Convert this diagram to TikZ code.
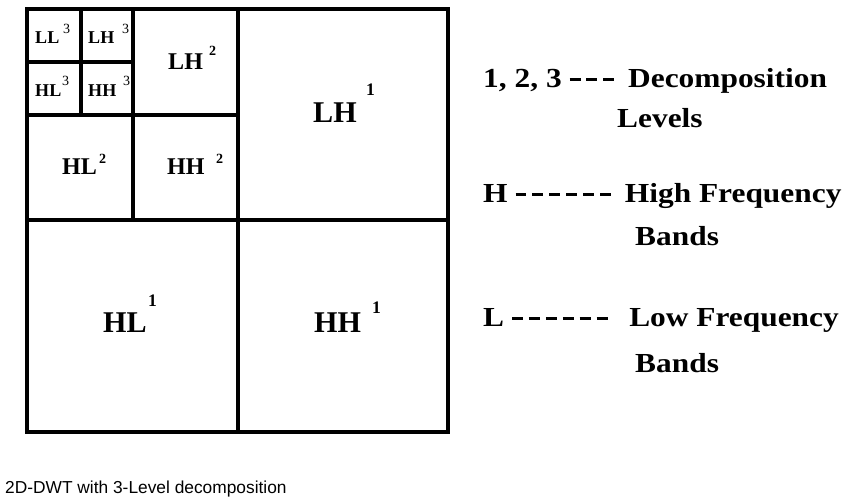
\documentclass[tikz,border=0pt]{standalone}
\usepackage{fontspec}
\setmainfont{Liberation Serif}
\newfontfamily\capfont{Liberation Sans}
\newfontfamily\legfont{Liberation Serif}[FakeStretch=1.14]
\usepackage{tikz}
\usetikzlibrary{positioning}

\newcommand{\dsh}{\rule[5.5pt]{9.35pt}{2.5pt}\kern5.1pt}

\begin{document}
\begin{tikzpicture}[x=0.03cm, y=-0.03cm,
		every node/.style={inner sep=0pt, anchor=base west},
		grid/.style={line width=2.6pt},
		bandone/.style={font=\bfseries\fontsize{25.7}{30}\selectfont},
		bandtwo/.style={font=\bfseries\fontsize{20.5}{25}\selectfont},
		bandthree/.style={font=\bfseries\fontsize{15.4}{18}\selectfont},
		supone/.style={font=\bfseries\fontsize{15}{18}\selectfont},
		suptwo/.style={font=\bfseries\fontsize{12}{15}\selectfont},
		supthree/.style={font=\fontsize{12}{14}\selectfont},
		legend/.style={font=\legfont\bfseries\fontsize{23.5}{27}\selectfont}
		]
		\useasboundingbox (0,0) rectangle (868,503);
		% subband grid
		\draw[grid] (27,9) rectangle (448,432);
		\draw[grid] (238,9) -- (238,432);
		\draw[grid] (27,220) -- (448,220);
		\draw[grid] (133,9) -- (133,220);
		\draw[grid] (27,115) -- (238,115);
		\draw[grid] (81,9) -- (81,115);
		\draw[grid] (27,62) -- (133,62);
		% level 1
		\node[bandone] (lh1) at (313,122) {LH};
		\node[supone] (lh1s) at (366,95) {1};
		\node[bandone] (hl1) at (103,332) {HL};
		\node[supone] (hl1s) at (148,306) {1};
		\node[bandone] (hh1) at (314,332) {HH};
		\node[supone] (hh1s) at (372,313) {1};
		% level 2
		\node[bandtwo] (lh2) at (168,69) {LH};
		\node[suptwo] (lh2s) at (209,55) {2};
		\node[bandtwo] (hl2) at (62,174) {HL};
		\node[suptwo] (hl2s) at (99,163) {2};
		\node[bandtwo] (hh2) at (167,174) {HH};
		\node[suptwo] (hh2s) at (216,163) {2};
		% level 3
		\node[bandthree] (ll3) at (35,43) {LL};
		\node[supthree] (ll3s) at (63,33) {3};
		\node[bandthree] (lh3) at (88,43) {LH};
		\node[supthree] (lh3s) at (122,33) {3};
		\node[bandthree] (hl3) at (35,96) {HL};
		\node[supthree] (hl3s) at (62,85) {3};
		\node[bandthree] (hh3) at (88,96) {HH};
		\node[supthree] (hh3s) at (123,85) {3};
		% legend
		\node[legend] (levels) at (483,87) {1, 2, 3 \dsh\dsh\dsh{} Decomposition};
		\node[legend] (levels2) at (617,127) {Levels};
		\node[legend] (high) at (483,202) {H \dsh\dsh\dsh\dsh\dsh\dsh{} High Frequency};
		\node[legend] (high2) at (635,245) {Bands};
		\node[legend] (low) at (483,326) {L \dsh\dsh\dsh\dsh\dsh\dsh{}\ \ Low Frequency};
		\node[legend] (low2) at (635,372) {Bands};
		% caption
		\node[font=\capfont\fontsize{14.8}{17}\selectfont] (cap) at (5,493) {2D-DWT with 3-Level decomposition};
	\end{tikzpicture}
\end{document}
